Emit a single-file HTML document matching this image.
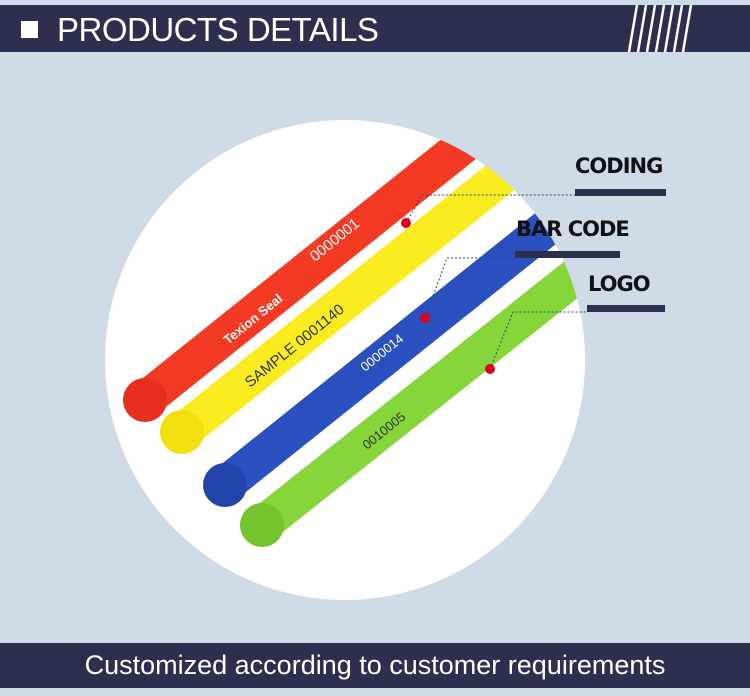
<!DOCTYPE html>
<html><head><meta charset="utf-8"><style>
body{margin:0;width:750px;height:696px;background:#cfdbe6;font-family:"Liberation Sans",sans-serif;position:relative;overflow:hidden}
.hdr{position:absolute;left:0;top:5px;width:750px;height:47px;background:#2d2f4f}
.hdr .sq{position:absolute;left:21px;top:16px;width:17px;height:17px;background:#fff}
.hdr .t{position:absolute;left:57px;top:6px;color:#fff;font-size:33px;letter-spacing:-0.5px}
.ftr{position:absolute;left:0;top:643px;width:750px;height:45px;background:#2d2f4f;color:#fff;font-size:27px;text-align:center;line-height:44px}
.lbl{position:absolute;font-weight:bold;font-size:21px;color:#111;font-family:"DejaVu Sans","Liberation Sans",sans-serif;letter-spacing:-1px}
.bar{position:absolute;height:7px;background:#2d2f4f}
</style></head><body>
<div class="hdr"><div class="sq"></div><div class="t">PRODUCTS DETAILS</div>
<svg style="position:absolute;left:625px;top:0" width="75" height="47"><g stroke="#fff" stroke-width="2.5">
<line x1="12" y1="0" x2="4" y2="47"/><line x1="21" y1="0" x2="13" y2="47"/><line x1="30" y1="0" x2="22" y2="47"/><line x1="39" y1="0" x2="31" y2="47"/><line x1="48" y1="0" x2="40" y2="47"/><line x1="57" y1="0" x2="49" y2="47"/><line x1="66" y1="0" x2="58" y2="47"/></g></svg></div>
<svg style="position:absolute;left:0;top:0" width="750" height="696">
<defs><clipPath id="c"><circle cx="345" cy="360" r="240"/></clipPath></defs>
<circle cx="345" cy="360" r="240" fill="#fff"/>
<g clip-path="url(#c)" stroke-linecap="round">
<line x1="145" y1="400" x2="520" y2="100" stroke="#f23a25" stroke-width="37"/>
<line x1="182" y1="432" x2="560" y2="130" stroke="#fbec1f" stroke-width="37"/>
<line x1="225" y1="485" x2="600" y2="185" stroke="#2a4fbf" stroke-width="37"/>
<line x1="262" y1="525" x2="640" y2="225" stroke="#86d53a" stroke-width="37"/>
</g>
<circle cx="145" cy="400" r="22" fill="#e52f1f"/><circle cx="182" cy="432" r="22" fill="#f2df10"/>
<circle cx="225" cy="485" r="22" fill="#2244a8"/><circle cx="262" cy="525" r="22" fill="#74c22c"/>
<g font-family="Liberation Sans" font-size="15" fill="#fff">
<text transform="translate(315,262) rotate(-39)">0000001</text>
<text transform="translate(228,345) rotate(-39)" font-size="13" font-weight="bold">Texion Seal</text>
<text transform="translate(250,388) rotate(-39)" fill="#333">SAMPLE 0001140</text>
<text transform="translate(365,372) rotate(-39)" font-size="13">0000014</text>
<text transform="translate(367,450) rotate(-39)" font-size="13" fill="#333">0010005</text>
</g>
<g fill="none" stroke="#1e4a80" stroke-width="1" stroke-dasharray="2,2">
<polyline points="406,223 422,195 575,195"/><polyline points="425,318 447,258 515,258"/><polyline points="490,369 513,312 587,312"/>
</g>
<circle cx="406" cy="223" r="5" fill="#e0001b"/><circle cx="425" cy="318" r="5" fill="#e0001b"/><circle cx="490" cy="369" r="5" fill="#e0001b"/>
</svg>
<div class="lbl" style="left:575px;top:154px">CODING</div><div class="bar" style="left:575px;top:189px;width:91px"></div>
<div class="lbl" style="left:516px;top:217px">BAR CODE</div><div class="bar" style="left:515px;top:251px;width:105px"></div>
<div class="lbl" style="left:588px;top:272px">LOGO</div><div class="bar" style="left:587px;top:305px;width:78px"></div>
<div class="ftr">Customized according to customer requirements</div>
</body></html>
